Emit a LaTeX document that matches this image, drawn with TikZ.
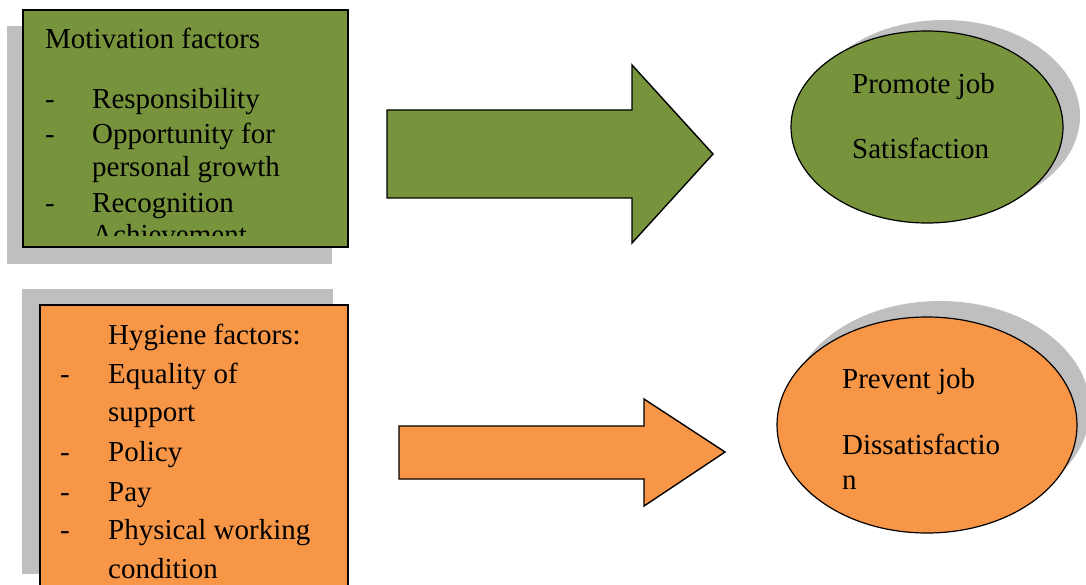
\documentclass[tikz,border=0pt]{standalone}
\usepackage{fontspec}
\setmainfont{Liberation Serif}
\usetikzlibrary{shapes.geometric}
\definecolor{olivegreen}{HTML}{77933C}
\definecolor{orangefill}{HTML}{F79646}
\definecolor{shadowgray}{HTML}{BFBFBF}
\begin{document}
\begin{tikzpicture}[x=1pt,y=-1pt,
  txt/.style={anchor=base west, inner sep=0pt, font=\fontsize{29}{34}\selectfont},
  boxline/.style={draw=black, line width=1.6pt},
  arrowline/.style={draw=black, line width=1.4pt, line join=miter},
  ellshape/.style={ellipse, inner sep=0pt, line width=1.2pt},
  shadowfill/.style={fill=shadowgray, draw=none}]
\useasboundingbox (0,0) rectangle (1086,585);
\fill[white] (0,0) rectangle (1086,585);

% ---------- top: motivation ----------
\fill[shadowgray] (7,26) rectangle (332,264);
\draw[boxline, fill=olivegreen] (23,10) rectangle (348,247);
\begin{scope}
\clip (24,11) rectangle (347,236);
\node[txt] (mf) at (45,49) {Motivation factors};
\node[txt] (d1) at (45,109) {-};
\node[txt] (m1) at (92,109) {Responsibility};
\node[txt] (d2) at (45,144) {-};
\node[txt] (m2) at (92,144) {Opportunity for};
\node[txt] (m2b) at (92,177) {personal growth};
\node[txt] (d3) at (45,213) {-};
\node[txt] (m3) at (92,213) {Recognition};
\node[txt] (m4) at (92,245) {Achievement};
\end{scope}

\draw[arrowline, fill=olivegreen] (387,110) -- (632,110) -- (632,65) -- (713,154)
  -- (632,243) -- (632,198) -- (387,198) -- cycle;

\node[ellshape, shadowfill, minimum width=272pt, minimum height=192pt] (sats) at (944,116) {};
\node[ellshape, draw=black, fill=olivegreen, minimum width=272pt, minimum height=192pt] (sat) at (927,127) {};
\node[txt] (s1) at (852,94) {Promote job};
\node[txt] (s2) at (852,159) {Satisfaction};

% ---------- bottom: hygiene ----------
\fill[shadowgray] (22,289) rectangle (333,574);
\draw[boxline, fill=orangefill] (40,305) rectangle (348,600);
\node[txt] (hf) at (108,344) {Hygiene factors:};
\node[txt] (e1) at (60,383) {-};
\node[txt] (h1) at (108,383) {Equality of};
\node[txt] (h1b) at (108,421) {support};
\node[txt] (e2) at (60,461) {-};
\node[txt] (h2) at (108,461) {Policy};
\node[txt] (e3) at (60,501) {-};
\node[txt] (h3) at (108,501) {Pay};
\node[txt] (e4) at (60,539) {-};
\node[txt] (h4) at (108,539) {Physical working};
\node[txt] (h4b) at (108,578) {condition};

\draw[arrowline, fill=orangefill] (399,426) -- (644,426) -- (644,399) -- (725,452)
  -- (644,506) -- (644,479) -- (399,479) -- cycle;

\node[ellshape, shadowfill, minimum width=300pt, minimum height=216pt] (diss) at (940,409) {};
\node[ellshape, draw=black, fill=orangefill, minimum width=300pt, minimum height=216pt] (dis) at (927,425) {};
\node[txt] (p1) at (842,388) {Prevent job};
\node[txt] (p2) at (842,454) {Dissatisfactio};
\node[txt] (p3) at (842,489) {n};
\end{tikzpicture}
\end{document}
